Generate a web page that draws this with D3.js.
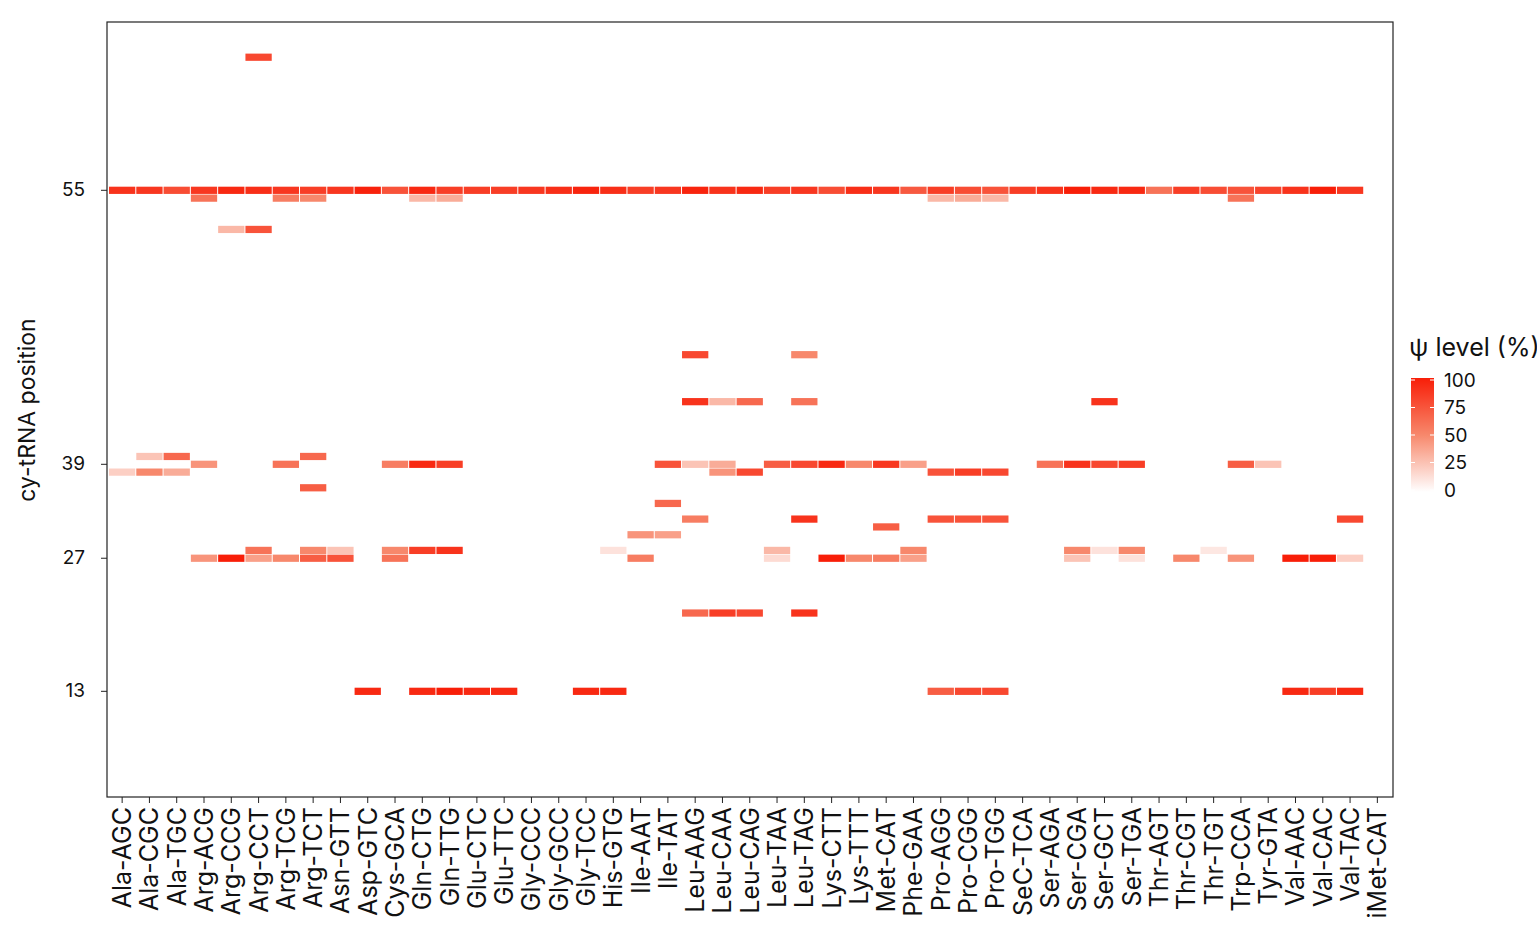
<!DOCTYPE html>
<html><head><meta charset="utf-8">
<script src="https://d3js.org/d3.v7.min.js"></script>
<style>body{margin:0;background:#fff;font-family:Inter,"Noto Sans",sans-serif;}</style>
</head><body><svg id="c" width="1537" height="949"></svg>
<script>
const trnas = ["Ala-AGC","Ala-CGC","Ala-TGC","Arg-ACG","Arg-CCG","Arg-CCT","Arg-TCG","Arg-TCT","Asn-GTT","Asp-GTC","Cys-GCA","Gln-CTG","Gln-TTG","Glu-CTC","Glu-TTC","Gly-CCC","Gly-GCC","Gly-TCC","His-GTG","Ile-AAT","Ile-TAT","Leu-AAG","Leu-CAA","Leu-CAG","Leu-TAA","Leu-TAG","Lys-CTT","Lys-TTT","Met-CAT","Phe-GAA","Pro-AGG","Pro-CGG","Pro-TGG","SeC-TCA","Ser-AGA","Ser-CGA","Ser-GCT","Ser-TGA","Thr-AGT","Thr-CGT","Thr-TGT","Trp-CCA","Tyr-GTA","Val-AAC","Val-CAC","Val-TAC","iMet-CAT"];
// row slots (top to bottom) of the position axis, 99 slots
const nRows = 99;
const tickRows = [21, 56, 68, 85];
const tickLabels = ["55", "39", "27", "13"];
// each row: [rowSlot, [[tRNA index, psi level], ...]]
const row4  = [[5,80]];
const row21 = [[0,90],[1,88],[2,78],[3,88],[4,95],[5,92],[6,88],[7,85],[8,88],[9,98],[10,75],[11,95],[12,85],[13,85],[14,85],[15,88],[16,92],[17,97],[18,92],[19,85],[20,88],[21,97],[22,90],[23,95],[24,85],[25,88],[26,78],[27,92],[28,88],[29,72],[30,85],[31,78],[32,75],[33,85],[34,90],[35,100],[36,95],[37,95],[38,60],[39,85],[40,78],[41,75],[42,82],[43,90],[44,100],[45,88]];
const row22 = [[3,60],[6,55],[7,50],[11,30],[12,35],[30,30],[31,35],[32,30],[41,60]];
const row26 = [[4,30],[5,75]];
const row42 = [[21,80],[25,50]];
const row48 = [[21,90],[22,30],[23,65],[25,60],[36,90]];
const row55 = [[1,25],[2,65],[7,65]];
const row56 = [[3,45],[6,60],[10,55],[11,95],[12,85],[20,75],[21,25],[22,35],[24,70],[25,80],[26,95],[27,50],[28,88],[29,40],[34,60],[35,90],[36,80],[37,85],[41,70],[42,25]];
const row57 = [[0,20],[1,50],[2,35],[22,45],[23,80],[30,75],[31,85],[32,80]];
const row59 = [[7,70]];
const row61 = [[20,65]];
const row63 = [[21,55],[25,90],[30,75],[31,75],[32,75],[45,80]];
const row64 = [[28,70]];
const row65 = [[19,45],[20,40]];
const row67 = [[5,60],[7,50],[8,25],[10,50],[11,85],[12,90],[18,12],[24,30],[29,50],[35,50],[36,12],[37,50],[40,10]];
const row68 = [[3,45],[4,100],[5,40],[6,50],[7,70],[8,75],[10,60],[19,55],[24,15],[26,100],[27,50],[28,55],[29,40],[35,25],[37,12],[39,50],[41,45],[43,100],[44,100],[45,20]];
const row75 = [[21,65],[22,85],[23,80],[25,90]];
const row85 = [[9,95],[11,95],[12,100],[13,95],[14,95],[17,95],[18,95],[30,70],[31,80],[32,80],[43,95],[44,85],[45,95]];
const rows = [[4,row4],[21,row21],[22,row22],[26,row26],[42,row42],[48,row48],[55,row55],[56,row56],[57,row57],[59,row59],[61,row61],[63,row63],[64,row64],[65,row65],[67,row67],[68,row68],[75,row75],[85,row85]];
const legendTicks = [0,25,50,75,100];

const svg = d3.select("#c");
const L=107, R=1393, T=22, B=797;
const x = d3.scaleBand().domain(trnas).range([108.5, 1391]);
const y = d3.scaleBand().domain(d3.range(nRows)).range([T, B]);
const color = d3.scaleLinear().domain([0,50,100]).range(["#ffffff","#f7886c","#f81e08"]);

const cells = [];
rows.forEach(([r, arr]) => arr.forEach(([i,v]) => cells.push({r, t: trnas[i], v})));
svg.append("g").selectAll("rect").data(cells).join("rect")
  .attr("x", d => x(d.t)+0.5).attr("y", d => y(d.r)+0.3)
  .attr("width", x.bandwidth()-1).attr("height", y.bandwidth()-0.6)
  .attr("fill", d => color(d.v));

svg.append("rect").attr("x",L).attr("y",T).attr("width",R-L).attr("height",B-T)
  .attr("fill","none").attr("stroke","#222").attr("stroke-width",1.2);

// x axis
const gx = svg.append("g").attr("transform",`translate(0,${B})`)
  .call(d3.axisBottom(x).tickSize(6).tickSizeOuter(0));
gx.select(".domain").remove();
gx.selectAll("line").attr("stroke","#222");
gx.selectAll("text").attr("transform","rotate(-90)").attr("text-anchor","end")
  .attr("x",-10).attr("y",0).attr("dy","0.36em")
  .style("font-size","25px").style("font-family","Inter,'Noto Sans',sans-serif").attr("fill","#111");

// y axis
const gy = svg.append("g").attr("transform",`translate(${L},0)`)
  .call(d3.axisLeft(y).tickValues(tickRows).tickFormat(d=>tickLabels[tickRows.indexOf(d)]).tickSize(6));
gy.select(".domain").remove();
gy.selectAll("line").attr("stroke","#222");
gy.selectAll("text").style("font-size","19px").style("font-family","Inter,'Noto Sans',sans-serif").attr("fill","#111").attr("x",-22);

svg.append("text").attr("transform","translate(35,410) rotate(-90)").attr("text-anchor","middle")
  .style("font-size","23px").attr("fill","#111").text("cy-tRNA position");

// legend
const lg = svg.append("g");
lg.append("text").attr("x",1409).attr("y",356).style("font-size","25px").attr("fill","#111").text("ψ level (%)");
const defs = svg.append("defs");
const grad = defs.append("linearGradient").attr("id","lgrad").attr("x1",0).attr("y1",1).attr("x2",0).attr("y2",0);
d3.range(0,101,10).forEach(v => grad.append("stop").attr("offset",v+"%").attr("stop-color",color(v)));
const ly = d3.scaleLinear().domain([0,100]).range([490,380]);
lg.append("rect").attr("x",1411).attr("y",378).attr("width",23).attr("height",114).attr("fill","url(#lgrad)");
legendTicks.forEach(v => {
  lg.append("line").attr("x1",1411).attr("x2",1415).attr("y1",ly(v)).attr("y2",ly(v)).attr("stroke","#fff");
  lg.append("line").attr("x1",1430).attr("x2",1434).attr("y1",ly(v)).attr("y2",ly(v)).attr("stroke","#fff");
  lg.append("text").attr("x",1444).attr("y",ly(v)).attr("dy","0.36em").style("font-size","19px").attr("fill","#111").text(v);
});
</script></body></html>
